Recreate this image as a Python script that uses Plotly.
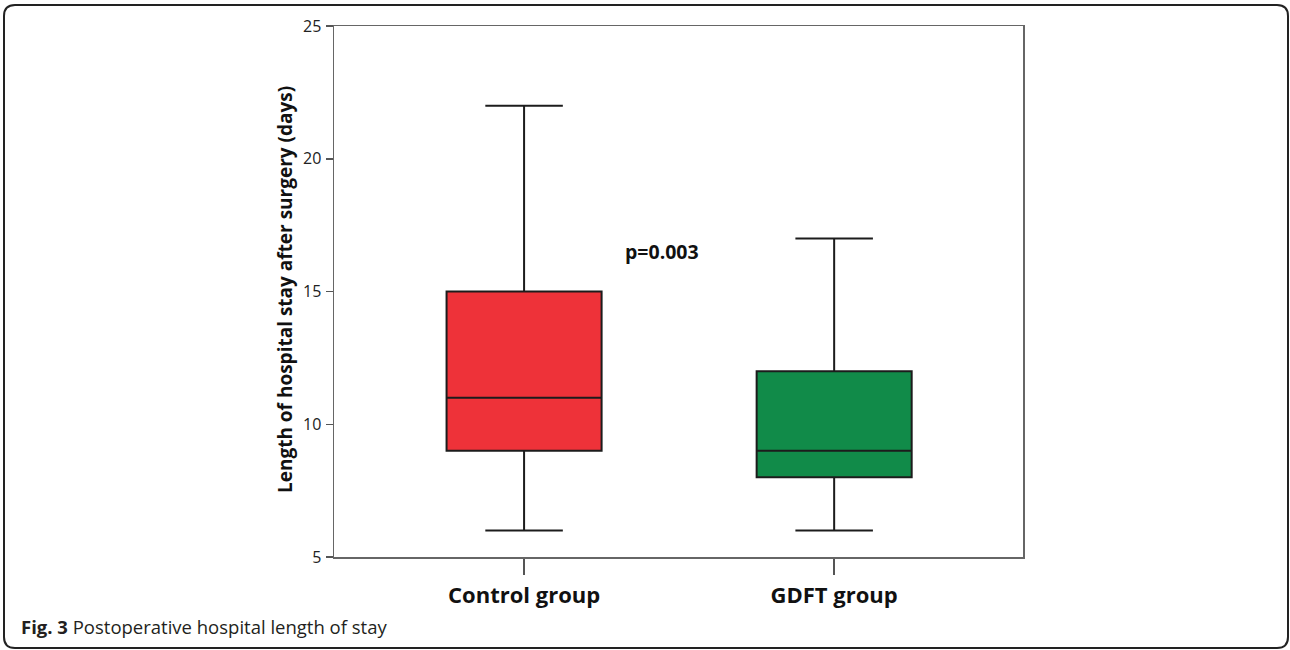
import plotly.graph_objects as go

# ---- data ----
groups = ["Control group", "GDFT group"]
lower_whisker = [6, 6]
q1_values = [9, 8]
medians = [11, 9]
q3_values = [15, 12]
upper_whisker = [22, 17]
box_colors = ["#EE3239", "#118B49"]
y_ticks = [5, 10, 15, 20, 25]
p_label = "p=0.003"
caption_bold = "Fig. 3"
caption_text = " Postoperative hospital length of stay"
y_title = "Length of hospital stay after surgery (days)"

W, H = 1290, 650
ML, MR, MT, MB = 334, 267, 26, 93
PW, PH = W - ML - MR, H - MT - MB


def px_x(px):
    return (px - ML) / PW


def px_y(py):
    return (H - MB - py) / PH


fig = go.Figure()
for i, g in enumerate(groups):
    fig.add_trace(go.Box(
        x=[g], q1=[q1_values[i]], median=[medians[i]], q3=[q3_values[i]],
        lowerfence=[lower_whisker[i]], upperfence=[upper_whisker[i]],
        fillcolor=box_colors[i],
        line=dict(color="#1c1c1c", width=2),
        width=0.5, whiskerwidth=0.5, boxpoints=False,
        showlegend=False, hoverinfo="skip",
    ))

# outer rounded frame
x0, x1 = px_x(4), px_x(1288)
y0, y1 = px_y(648), px_y(5)
rx, ry = 11 / PW, 11 / PH
path = (f"M {x0+rx},{y1} L {x1-rx},{y1} Q {x1},{y1} {x1},{y1-ry} "
        f"L {x1},{y0+ry} Q {x1},{y0} {x1-rx},{y0} "
        f"L {x0+rx},{y0} Q {x0},{y0} {x0},{y0+ry} "
        f"L {x0},{y1-ry} Q {x0},{y1} {x0+rx},{y1} Z")
fig.add_shape(type="path", path=path, xref="paper", yref="paper",
              line=dict(color="#222222", width=2), layer="below")

fig.add_annotation(x=px_x(662), y=px_y(251), xref="paper", yref="paper",
                   xanchor="center", yanchor="middle",
                   text=f"<b>{p_label}</b>", showarrow=False,
                   font=dict(family="Open Sans", size=19.5, color="#111111"))

fig.add_annotation(x=px_x(285), y=px_y(290), xref="paper", yref="paper",
                   xanchor="center", yanchor="middle",
                   text=f"<b>{y_title}</b>", textangle=-90, showarrow=False,
                   font=dict(family="Open Sans", size=19, color="#111111"))

fig.add_annotation(x=px_x(19), y=px_y(626), xref="paper", yref="paper",
                   xanchor="left", yanchor="middle",
                   text=f"<b>{caption_bold}</b>{caption_text}", showarrow=False,
                   font=dict(family="Open Sans", size=18.5, color="#231f20"))

fig.update_xaxes(
    type="category", range=[-0.613, 1.609],
    showline=True, mirror=True, linecolor="#666666", linewidth=1.5,
    ticks="outside", ticklen=16, tickcolor="#555555", tickwidth=1.5,
    showgrid=False, zeroline=False,
    tickfont=dict(family="Open Sans", size=22, color="#111111"),
    ticklabelstandoff=2,
)
fig.update_xaxes(ticktext=[f"<b>{g}</b>" for g in groups], tickvals=groups)
fig.update_yaxes(
    range=[5, 25], tickvals=y_ticks,
    showline=True, mirror=True, linecolor="#666666", linewidth=1.5,
    ticks="outside", ticklen=7, tickcolor="#555555", tickwidth=1.5,
    showgrid=False, zeroline=False,
    tickfont=dict(family="Open Sans", size=16, color="#222222"),
    ticklabelstandoff=1,
)
fig.update_layout(
    width=W, height=H,
    margin=dict(l=ML, r=MR, t=MT, b=MB),
    paper_bgcolor="white", plot_bgcolor="white",
)
fig.write_html(
    "out.html",
    config={"displayModeBar": False, "staticPlot": True},
    post_script="document.body.style.margin='0';document.body.style.overflow='hidden';",
)
